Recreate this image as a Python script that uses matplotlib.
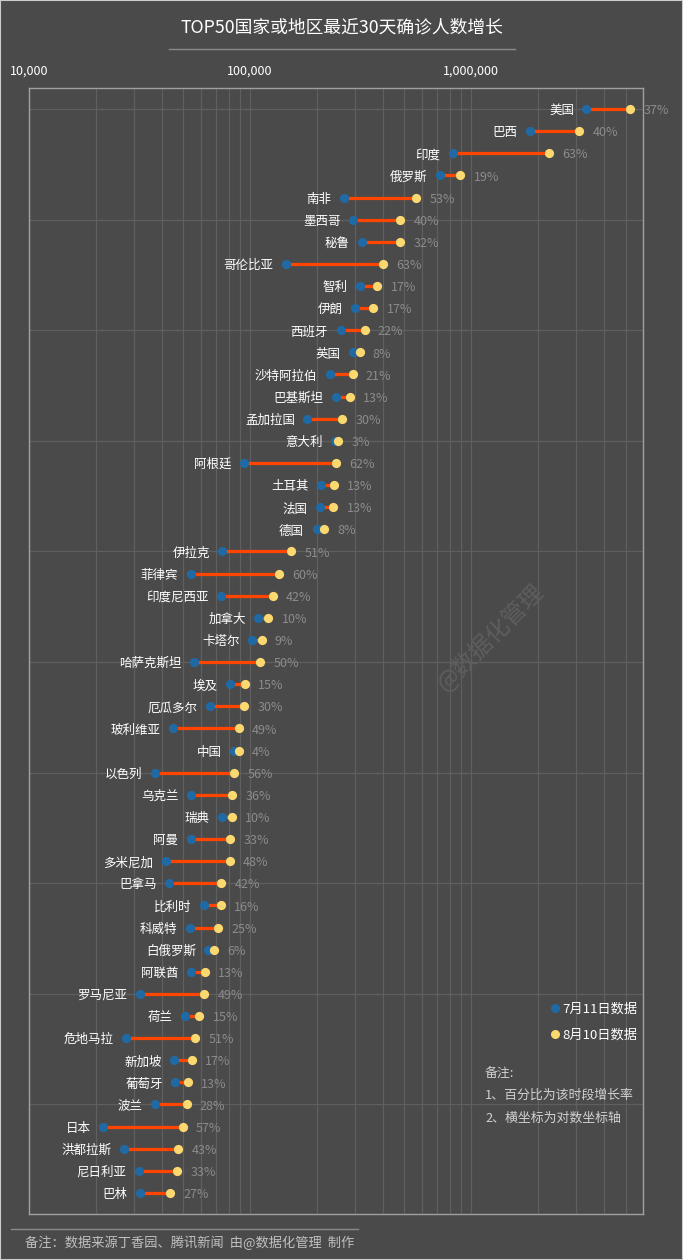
import matplotlib
matplotlib.use("Agg")
import matplotlib.pyplot as plt
from matplotlib.ticker import FixedLocator, LogLocator, NullFormatter
from matplotlib.patches import Rectangle
from matplotlib.lines import Line2D

plt.rcParams['font.family'] = ['Noto Sans CJK SC', 'DejaVu Sans']

countries = ['美国', '巴西', '印度', '俄罗斯', '南非', '墨西哥', '秘鲁', '哥伦比亚', '智利', '伊朗',
             '西班牙', '英国', '沙特阿拉伯', '巴基斯坦', '孟加拉国', '意大利', '阿根廷', '土耳其', '法国', '德国',
             '伊拉克', '菲律宾', '印度尼西亚', '加拿大', '卡塔尔', '哈萨克斯坦', '埃及', '厄瓜多尔', '玻利维亚', '中国',
             '以色列', '乌克兰', '瑞典', '阿曼', '多米尼加', '巴拿马', '比利时', '科威特', '白俄罗斯', '阿联酋',
             '罗马尼亚', '荷兰', '危地马拉', '新加坡', '葡萄牙', '波兰', '日本', '洪都拉斯', '尼日利亚', '巴林']

# confirmed cases, thousands
jul11 = [3330, 1850, 830, 724, 266, 292, 320, 145, 313, 300,
         257, 292, 229, 245, 182, 243, 94, 210, 208, 200,
         75, 54, 74, 109, 102, 56, 81, 66, 45, 85,
         37, 54, 75, 54, 41.7, 43, 62, 53.5, 64.7, 54,
         31.7, 51, 27.6, 45.4, 46, 37.2, 21.6, 26.9, 31.3, 31.8]
aug10 = [5260, 3090, 2250, 896, 566, 479, 479, 398, 377, 362,
         330, 313, 291, 284, 262, 250, 245, 240, 238, 217,
         154, 135, 127, 121, 113, 111, 95, 94, 89, 89,
         85, 83, 83, 81.5, 81, 74, 74, 71.8, 68.7, 62.7,
         62, 59, 56.5, 54.7, 52.5, 51.7, 49.5, 47.3, 46.9, 43.6]
growth = [37, 40, 63, 19, 53, 40, 32, 63, 17, 17,
          22, 8, 21, 13, 30, 3, 62, 13, 13, 8,
          51, 60, 42, 10, 9, 50, 15, 30, 49, 4,
          56, 36, 10, 33, 48, 42, 16, 25, 6, 13,
          49, 15, 51, 17, 13, 28, 57, 43, 33, 27]

bg = '#4a4a4a'
blue = '#1f6aa5'
yellow = '#fbd870'
red = '#ff4500'

fig = plt.figure(figsize=(6.83, 12.6), dpi=100, facecolor=bg)
ax = fig.add_axes([29 / 683, 1 - 1214 / 1260, (643 - 29) / 683, (1214 - 88) / 1260])
ax.set_facecolor(bg)

y = list(range(len(countries)))
x1 = [v * 1000 for v in jul11]
x2 = [v * 1000 for v in aug10]

for i in y:
    ax.plot([x1[i], x2[i]], [i, i], color=red, lw=2.3, zorder=3, solid_capstyle='butt')
ax.scatter(x1, y, s=44, color=blue, zorder=4, linewidths=0)
ax.scatter(x2, y, s=44, color=yellow, zorder=5, linewidths=0)

for i in y:
    ax.annotate(countries[i], (x1[i], i), xytext=(-9, -1.2), textcoords='offset points',
                ha='right', va='center', color='white', fontsize=9, zorder=6)
    ax.annotate(f'{growth[i]}%', (x2[i], i), xytext=(9.5, -1.2), textcoords='offset points',
                ha='left', va='center', color='#8c8c8c', fontsize=9, zorder=6,
                annotation_clip=False)

ax.set_xscale('log')
ax.set_xlim(1e4, 6e6)
ax.set_ylim(49.95, -0.95)

ax.xaxis.tick_top()
ax.xaxis.set_major_locator(FixedLocator([1e4, 1e5, 1e6]))
ax.xaxis.set_minor_locator(LogLocator(base=10, subs=range(2, 10)))
ax.xaxis.set_minor_formatter(NullFormatter())
ax.set_xticks([1e4, 1e5, 1e6])
ax.set_xticklabels(['10,000', '100,000', '1,000,000'])
ax.tick_params(axis='x', which='both', length=0, pad=7.2, colors='white', labelsize=9)
ax.set_yticks(range(0, 50, 5))
ax.set_yticklabels([])
ax.tick_params(axis='y', length=0)

ax.grid(True, which='both', axis='x', color='#5f5f5f', lw=0.9)
ax.grid(True, which='major', axis='y', color='#5f5f5f', lw=0.9)
ax.set_axisbelow(True)
for s in ax.spines.values():
    s.set_color('#a0a0a0')
    s.set_linewidth(1)

# title
fig.text(342 / 683, 1 - 27 / 1260, 'TOP50国家或地区最近30天确诊人数增长', ha='center', va='center',
         color='white', fontsize=12.8)
fig.add_artist(Line2D([169 / 683, 515 / 683], [1 - 49 / 1260] * 2, color='#8a8a8a', lw=1))

# legend
fig.add_artist(Line2D([555 / 683], [1 - 1008 / 1260], marker='o', ms=5.5, color=blue, lw=0))
fig.add_artist(Line2D([555 / 683], [1 - 1034 / 1260], marker='o', ms=5.5, color=yellow, lw=0))
fig.text(562 / 683, 1 - 1009 / 1260, '7月11日数据', ha='left', va='center', color='white', fontsize=9.5)
fig.text(562 / 683, 1 - 1035 / 1260, '8月10日数据', ha='left', va='center', color='white', fontsize=9.5)

# notes
notes = ['备注:', '1、百分比为该时段增长率', '2、横坐标为对数坐标轴']
for k, t in enumerate(notes):
    fig.text(485 / 683, 1 - (1073 + 22.5 * k) / 1260, t, ha='left', va='center',
             color='#d0d0d0', fontsize=9.3)

# watermark
fig.text(490 / 683, 1 - 637 / 1260, '@数据化管理', ha='center', va='center', rotation=45,
         color='#5e5e5e', fontsize=17)

# footer
fig.add_artist(Line2D([11 / 683, 358 / 683], [1 - 1229 / 1260] * 2, color='#8a8a8a', lw=1))
fig.text(25 / 683, 1 - 1243 / 1260, '备注：数据来源丁香园、腾讯新闻  由@数据化管理  制作', ha='left',
         va='center', color='#c0c0c0', fontsize=9.5)

fig.add_artist(Rectangle((0, 0), 1, 1, transform=fig.transFigure, fill=False,
                         edgecolor='#cccccc', lw=1.5))

fig.savefig('out.png', dpi=100, facecolor=bg)
